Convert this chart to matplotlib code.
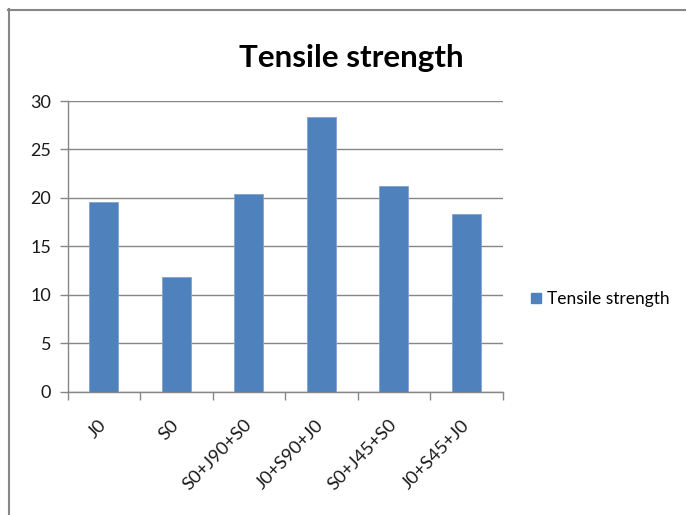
import matplotlib
matplotlib.use("Agg")
import matplotlib.pyplot as plt
from matplotlib.patches import Patch
from matplotlib.lines import Line2D
from matplotlib.ticker import FixedLocator

categories = ["J0", "S0", "S0+J90+S0", "J0+S90+J0", "S0+J45+S0", "J0+S45+J0"]
tensile_strength = [19.6, 11.8, 20.4, 28.4, 21.2, 18.3]
y_ticks = [0, 5, 10, 15, 20, 25, 30]
series_name = "Tensile strength"
chart_title = "Tensile strength"

W, H = 686, 515
FONT = "Lato"
GRAY = "#868686"
BLUE = "#4F81BD"

fig = plt.figure(figsize=(W / 100, H / 100), dpi=100)
fig.patch.set_facecolor("white")

# plot area in pixel coordinates
left, right, top, bottom = 67.7, 502.7, 101.0, 391.7
ax = fig.add_axes([left / W, 1 - bottom / H, (right - left) / W, (bottom - top) / H])

x = list(range(len(categories)))
ax.bar(x, tensile_strength, width=0.4, color=BLUE, edgecolor="#7FA3D1",
       linewidth=0.6, zorder=3)

ax.set_xlim(-0.5, len(categories) - 0.5)
ax.set_ylim(y_ticks[0], y_ticks[-1])

ax.set_yticks(y_ticks)
ax.set_yticklabels([str(v) for v in y_ticks], fontfamily=FONT, fontsize=13,
                   color="#1a1a1a")
ax.tick_params(axis="y", length=5.5, width=1.0, color=GRAY, pad=6.5)
ax.yaxis.grid(True, color=GRAY, linewidth=1.0, zorder=0)
ax.set_axisbelow(True)

# category labels at centres, tick marks at boundaries
ax.set_xticks(x)
ax.set_xticklabels(categories, fontfamily=FONT, fontsize=13.2, color="#1a1a1a",
                   rotation=46, ha="right", va="center", rotation_mode="anchor")
ax.tick_params(axis="x", which="major", length=0, pad=22)
ax.xaxis.set_minor_locator(FixedLocator([i - 0.5 for i in range(len(categories) + 1)]))
ax.tick_params(axis="x", which="minor", length=6, width=1.0, color=GRAY)

for side in ("top", "right"):
    ax.spines[side].set_visible(False)
for side in ("left", "bottom"):
    ax.spines[side].set_color(GRAY)
    ax.spines[side].set_linewidth(1.0)

fig.text(351.3 / W, 1 - 66.7 / H, chart_title, ha="center", va="baseline",
         fontfamily=FONT, fontweight="bold", fontsize=22.6, color="black")

handle = Patch(facecolor=BLUE, edgecolor=BLUE)
fig.legend([handle], [series_name], loc="center left",
           bbox_to_anchor=(531 / W, 1 - 299 / H), frameon=False,
           prop={"family": FONT, "size": 12.5}, handlelength=0.55,
           handleheight=0.55, handletextpad=0.35, borderaxespad=0,
           borderpad=0)

# chart frame (only the top and left edges fall inside the image)
fig.add_artist(Line2D([9 / W, 9 / W], [0, 1 - 9 / H], transform=fig.transFigure,
                      color=GRAY, linewidth=1.5))
fig.add_artist(Line2D([8 / W, 1], [1 - 10 / H, 1 - 10 / H], transform=fig.transFigure,
                      color=GRAY, linewidth=1.5))

fig.savefig("out.png", dpi=100, facecolor="white")
